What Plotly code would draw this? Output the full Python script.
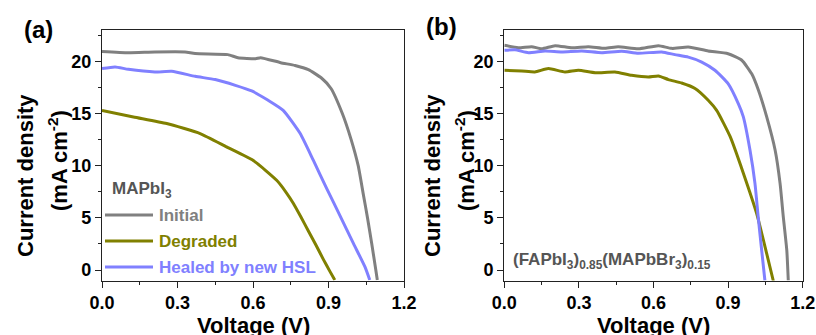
import plotly.graph_objects as go

W, H = 816, 335

# ---------------- data ----------------
# Panel (a): MAPbI3
a_init_v = [0.0, 0.105, 0.21, 0.33, 0.37, 0.50, 0.54, 0.61, 0.63, 0.71, 0.767, 0.82, 0.872, 0.91,
            0.955, 0.99, 1.018, 1.038, 1.055, 1.072, 1.088, 1.094]
a_init_j = [20.95, 20.83, 20.9, 20.9, 20.74, 20.64, 20.35, 20.25, 20.35, 19.87, 19.6, 19.2, 18.4, 17.4,
            15.0, 12.5, 10.0, 7.3, 5.0, 2.5, 0.0, -0.96]

a_deg_v = [0.0, 0.125, 0.257, 0.39, 0.495, 0.601, 0.694, 0.73, 0.76, 0.79, 0.82, 0.85, 0.88, 0.905,
           0.925]
a_deg_j = [15.3, 14.67, 14.04, 13.08, 11.8, 10.5, 8.6, 7.5, 6.4, 5.1, 3.75, 2.4, 1.0, -0.1, -0.96]

a_heal_v = [0.0, 0.052, 0.105, 0.21, 0.277, 0.37, 0.45, 0.53, 0.595, 0.66, 0.72, 0.787, 0.84,
            0.893, 0.946, 0.998, 1.045, 1.064]
a_heal_j = [19.3, 19.46, 19.23, 18.98, 19.04, 18.56, 18.25, 17.7, 17.16, 16.27, 15.3, 13.1, 10.5,
            7.8, 5.2, 2.6, 0.3, -0.96]

# Panel (b): (FAPbI3)0.85(MAPbBr3)0.15
b_init_v = [0.0, 0.056, 0.11, 0.15, 0.204, 0.271, 0.338, 0.405, 0.458, 0.539, 0.62, 0.673, 0.74,
            0.82, 0.90, 0.955, 0.995, 1.021, 1.055, 1.089, 1.109, 1.122, 1.136, 1.142]
b_init_j = [21.53, 21.3, 21.4, 21.2, 21.5, 21.3, 21.4, 21.24, 21.4, 21.2, 21.5, 21.24, 21.37,
            20.99, 20.73, 20.1, 18.8, 17.3, 14.7, 11.5, 8.3, 5.1, 1.9, -1.0]

b_deg_v = [0.0, 0.07, 0.123, 0.177, 0.244, 0.298, 0.365, 0.445, 0.512, 0.579, 0.62, 0.66, 0.713,
           0.767, 0.82, 0.854, 0.908, 0.961, 1.015, 1.055, 1.082]
b_deg_j = [19.14, 19.07, 18.98, 19.3, 18.98, 19.14, 18.9, 18.98, 18.66, 18.5, 18.6, 18.25, 17.92,
           17.4, 16.27, 15.3, 12.8, 9.3, 5.4, 1.6, -1.05]

b_heal_v = [0.0, 0.043, 0.097, 0.164, 0.231, 0.311, 0.392, 0.472, 0.539, 0.633, 0.686, 0.74, 0.794,
            0.847, 0.90, 0.941, 0.961, 0.988, 1.008, 1.021, 1.035, 1.048]
b_heal_j = [21.05, 21.1, 20.83, 20.99, 20.9, 20.99, 20.83, 20.96, 20.77, 20.9, 20.64, 20.4, 19.93,
            19.14, 17.86, 15.95, 14.7, 11.5, 8.3, 5.1, 1.9, -1.0]

series_names = ["Initial", "Degraded", "Healed by new HSL"]
colors = ["#808080", "#808000", "#8080ff"]
x_ticks = [0.0, 0.3, 0.6, 0.9, 1.2]
x_tick_text = ["0.0", "0.3", "0.6", "0.9", "1.2"]
y_ticks = [0, 5, 10, 15, 20]

# ---------------- layout helpers ----------------
def px(x):
    return x / W

def py(y):
    return 1 - y / H

FONT = "Liberation Sans, Arial, sans-serif"

fig = go.Figure()

panels = [
    ("x", "y", [(a_init_v, a_init_j), (a_deg_v, a_deg_j), (a_heal_v, a_heal_j)]),
    ("x2", "y2", [(b_init_v, b_init_j), (b_deg_v, b_deg_j), (b_heal_v, b_heal_j)]),
]
for xa, ya, data in panels:
    for (v, j), name, c in zip(data, series_names, colors):
        fig.add_trace(go.Scatter(x=v, y=j, mode="lines", name=name, xaxis=xa, yaxis=ya,
                                 line=dict(color=c, width=3, shape="spline", smoothing=0.5),
                                 showlegend=False))

axis_common = dict(
    showgrid=False, zeroline=False, showline=True, linecolor="#222", linewidth=1.3,
    mirror=True, ticks="outside", ticklen=6, tickwidth=1.2, tickcolor="#222", automargin=False,
    tickfont=dict(family=FONT, size=18, color="#000", weight="bold"),
)
minor_x = dict(ticks="outside", ticklen=3, dtick=0.15, tick0=0, tickcolor="#222", tickwidth=1)
minor_y = dict(ticks="outside", ticklen=3, dtick=2.5, tick0=0, tickcolor="#222", tickwidth=1)
xdom_a = [px(102), px(404)]
xdom_b = [px(504.3), px(802.7)]
ydom = [py(280.5), py(30)]

fig.update_layout(
    template="none",
    width=W, height=H, margin=dict(l=0, r=0, t=0, b=0, autoexpand=False),
    paper_bgcolor="white", plot_bgcolor="white", showlegend=False,
    xaxis=dict(domain=xdom_a, range=[0, 1.2], tickvals=x_ticks, ticktext=x_tick_text, anchor="y",
               minor=minor_x, **axis_common),
    yaxis=dict(domain=ydom, range=[-1, 23], tickvals=y_ticks, anchor="x",
               minor=minor_y, **axis_common),
    xaxis2=dict(domain=xdom_b, range=[0, 1.2], tickvals=x_ticks, ticktext=x_tick_text, anchor="y2",
                minor=minor_x, **axis_common),
    yaxis2=dict(domain=ydom, range=[-1, 23], tickvals=y_ticks, anchor="x2",
                minor=minor_y, **axis_common),
)

def note(text, x, y, size, color="#000", angle=0, xanchor="center", yanchor="middle"):
    fig.add_annotation(text=text, x=px(x), y=py(y), xref="paper", yref="paper",
                       showarrow=False, textangle=angle, xanchor=xanchor, yanchor=yanchor,
                       font=dict(family=FONT, size=size, color=color, weight="bold"))

# panel labels
note("(a)", 38, 29, 24)
note("(b)", 442, 26, 24)

# axis titles
for cx1, cx2, xc in [(25, 58, 253), (432, 465, 653.5)]:
    note("Current density", cx1, 176, 22, angle=-90)
    note("(mA cm<sup>-2</sup>)", cx2, 161, 22, angle=-90)
    note("Voltage (V)", xc, 325, 22)

# legend panel (a)
note("MAPbI<sub>3</sub>", 110, 190, 17, color="#555", xanchor="left")
for name, c, yy in zip(series_names, colors, [215, 241, 267]):
    fig.add_shape(type="line", xref="paper", yref="paper", x0=px(105), x1=px(153), y0=py(yy), y1=py(yy),
                  line=dict(color=c, width=3))
    note(name, 157, yy, 17, color=c, xanchor="left")

# composition label panel (b)
note("(FAPbI<sub>3</sub>)<sub>0.85</sub>(MAPbBr<sub>3</sub>)<sub>0.15</sub>", 511, 261, 17,
     color="#555", xanchor="left")

fig.write_html("out.html", config={"displayModeBar": False},
               post_script="document.body.style.margin='0';")
